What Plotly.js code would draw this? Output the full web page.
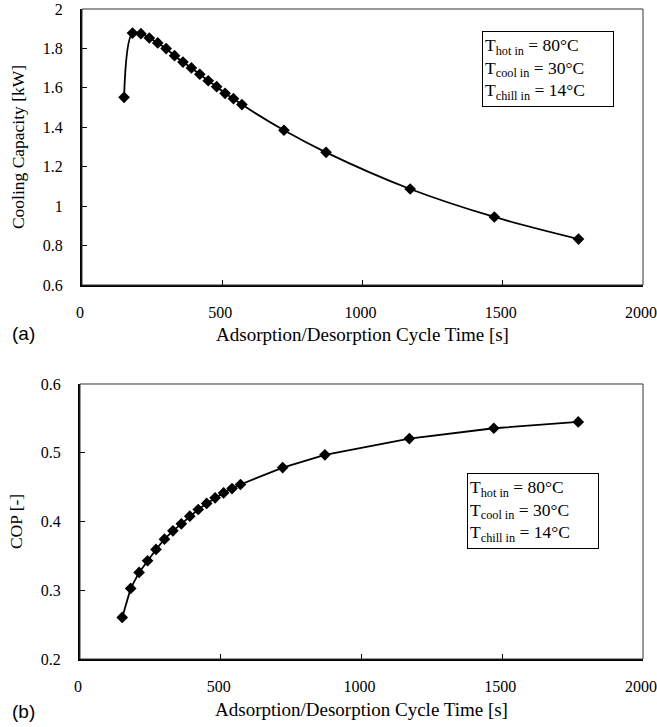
<!DOCTYPE html>
<html><head><meta charset="utf-8">
<script src="https://cdn.plot.ly/plotly-3.0.1.min.js"></script>
<style>html,body{margin:0;padding:0;background:#fff}#chart{width:657px;height:727px}</style>
</head><body><div id="chart"></div>
<script>
const cycleTime = [150,180,210,240,270,300,330,360,390,420,450,480,510,540,570,720,870,1170,1470,1770];
const coolingCapacity = [1.552,1.878,1.875,1.853,1.828,1.799,1.763,1.731,1.701,1.669,1.636,1.606,1.572,1.545,1.515,1.385,1.273,1.087,0.945,0.833];
const cop = [0.2605,0.3027,0.3259,0.3429,0.3593,0.3743,0.3864,0.3966,0.4077,0.4174,0.4262,0.4344,0.4416,0.4479,0.4538,0.4784,0.4969,0.5206,0.5356,0.5448];
const xTicks = [0,500,1000,1500,2000];
const capTicks = [0.6,0.8,1,1.2,1.4,1.6,1.8,2];
const copTicks = [0.2,0.3,0.4,0.5,0.6];
const xTitle = 'Adsorption/Desorption Cycle Time [s]';
const capTitle = 'Cooling Capacity [kW]';
const copTitle = 'COP [-]';
const conditionText = 'T<sub>hot in</sub> = 80°C<br>T<sub>cool in</sub> = 30°C<br>T<sub>chill in</sub> = 14°C';

const serif = "'Liberation Serif', 'Times New Roman', serif";
const sans = "'Liberation Sans', Arial, sans-serif";
const tickFont = {family: serif, size: 16, color: '#000'};
const xTitleFont = {family: serif, size: 19, color: '#000'};
const yTitleFont = {family: serif, size: 17.5, color: '#000'};

function xAxis(domain, anchor) {
  return {
    domain: domain, anchor: anchor, range: [0, 2000], tickvals: xTicks,
    ticks: 'inside', ticklen: 5, tickwidth: 1, tickcolor: '#000',
    showline: true, linewidth: 2, linecolor: '#000', mirror: false,
    showgrid: false, zeroline: false, tickfont: tickFont, ticklabelstandoff: 12,
    ticklabelshift: -2, ticklabeloverflow: 'allow',
    title: {text: xTitle, font: xTitleFont, standoff: 8}
  };
}
function yAxis(domain, anchor, range, vals, title) {
  return {
    domain: domain, anchor: anchor, range: range, tickvals: vals,
    ticks: 'inside', ticklen: 5, tickwidth: 1, tickcolor: '#000',
    showline: true, linewidth: 2, linecolor: '#000', mirror: false,
    showgrid: false, zeroline: false, tickfont: tickFont, ticklabelstandoff: 14,
    title: {text: title, font: yTitleFont, standoff: 14}
  };
}

const markerStyle = {symbol: 'diamond', size: 9, color: '#000'};

const data = [
  {x: cycleTime, y: coolingCapacity, xaxis: 'x', yaxis: 'y', mode: 'lines+markers',
   line: {color: '#000', width: 1.8, shape: 'spline', smoothing: 1}, marker: markerStyle},
  {x: cycleTime, y: cop, xaxis: 'x2', yaxis: 'y2', mode: 'lines+markers',
   line: {color: '#000', width: 1.8}, marker: markerStyle}
];

function frame(xr, yr) {
  return {type: 'rect', xref: xr + ' domain', yref: yr + ' domain', x0: 0, x1: 1, y0: 0, y1: 1,
          line: {color: '#333', width: 1}, layer: 'above'};
}

function conditionBox(xr, yr, x, y) {
  return {xref: xr + ' domain', yref: yr + ' domain', x: x, y: y, xanchor: 'center', yanchor: 'middle',
    text: conditionText, showarrow: false, align: 'left', width: 126, height: 70, borderpad: 2,
    bordercolor: '#000', borderwidth: 1, bgcolor: '#fff', font: {family: serif, size: 17.5, color: '#000'}};
}

const layout = {
  width: 657, height: 727,
  margin: {l: 80, r: 14, t: 9, b: 68},
  paper_bgcolor: '#fff', plot_bgcolor: '#fff',
  showlegend: false,
  xaxis: xAxis([2/563, 1], 'y'),
  yaxis: yAxis([0.5754, 1], 'x', [0.6, 2], capTicks, capTitle),
  xaxis2: xAxis([0, 1], 'y2'),
  yaxis2: yAxis([0, 0.4231], 'x2', [0.2, 0.6], copTicks, copTitle),
  shapes: [frame('x', 'y'), frame('x2', 'y2')],
  annotations: [
    conditionBox('x', 'y', 0.831, 0.781),
    conditionBox('x2', 'y2', 0.805, 0.537),
    {xref: 'paper', yref: 'paper', x: -0.0995, y: 0.5015, xanchor: 'center', yanchor: 'middle',
     text: '(a)', showarrow: false, font: {family: sans, size: 19, color: '#000'}},
    {xref: 'paper', yref: 'paper', x: -0.0995, y: -0.08, xanchor: 'center', yanchor: 'middle',
     text: '(b)', showarrow: false, font: {family: sans, size: 19, color: '#000'}}
  ]
};

Plotly.newPlot('chart', data, layout, {staticPlot: true, displayModeBar: false});
</script>
</body></html>
